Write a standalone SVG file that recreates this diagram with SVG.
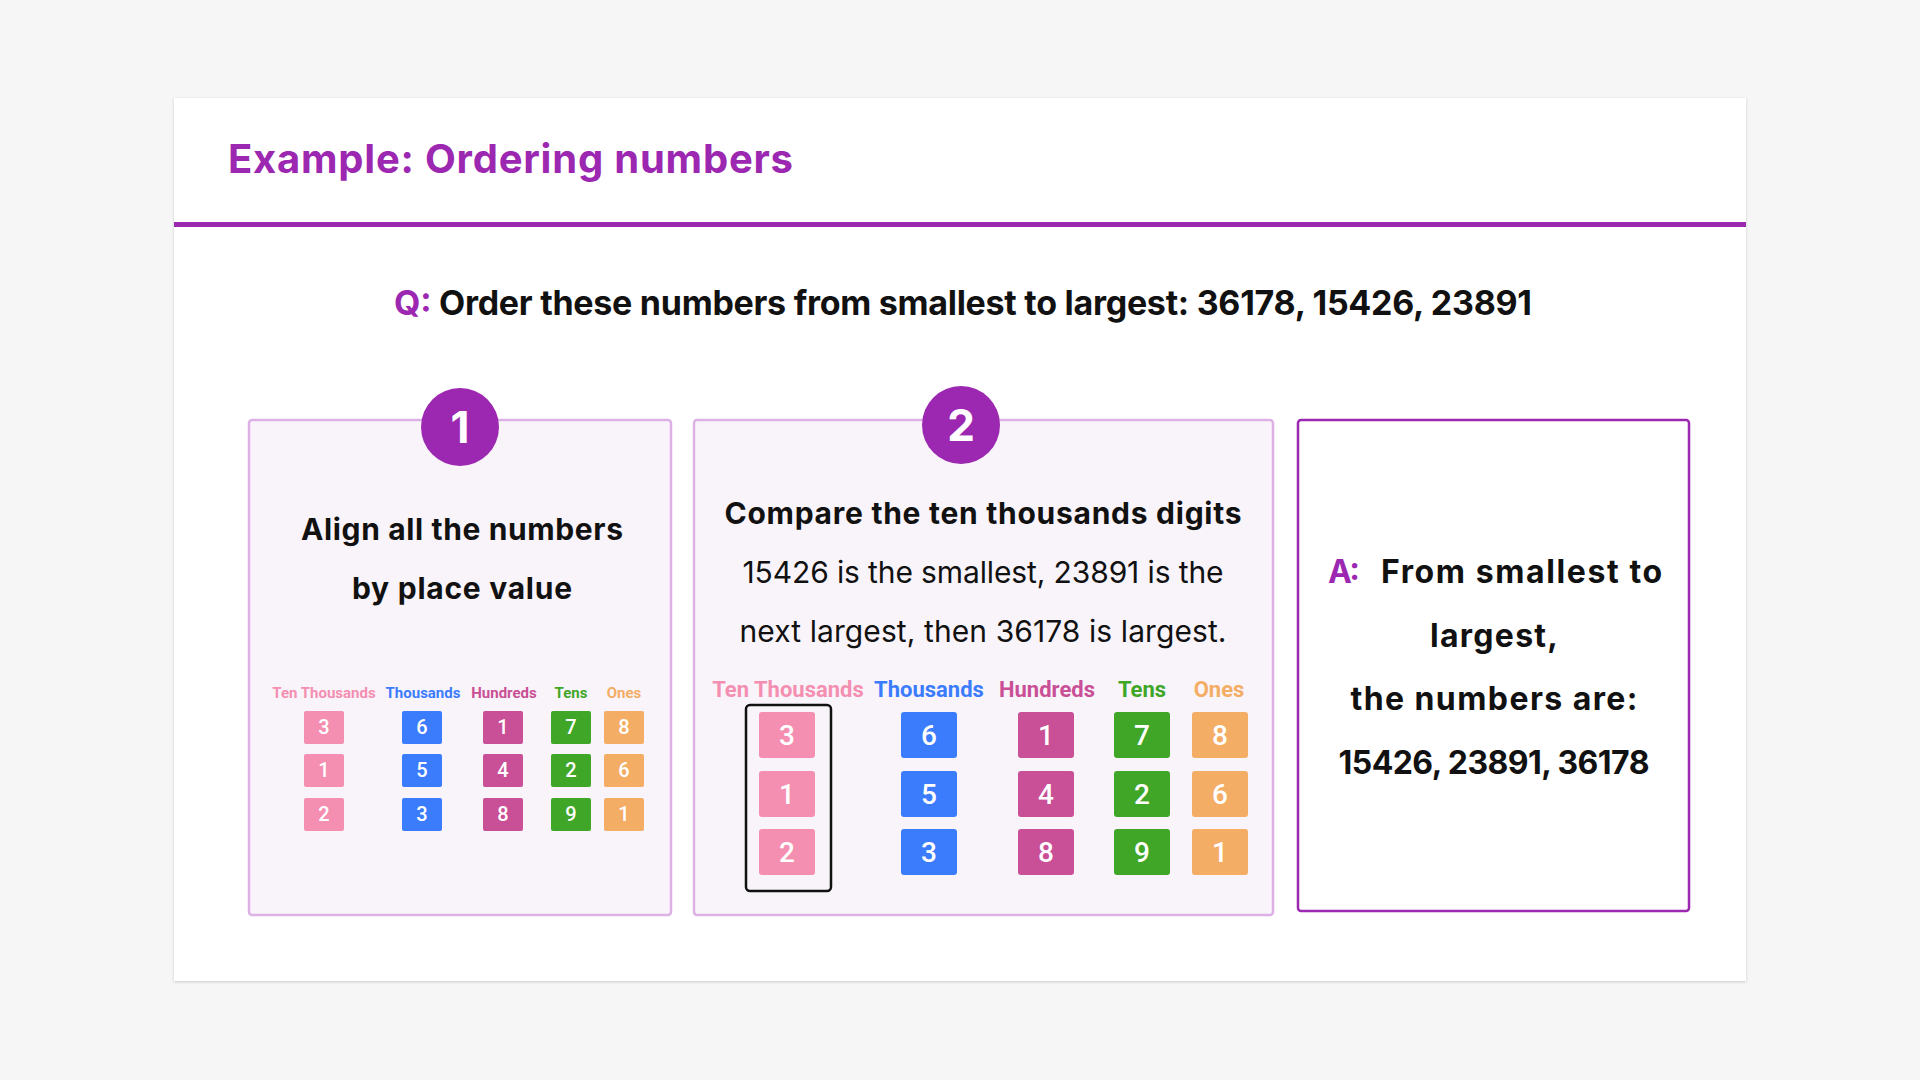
<svg xmlns="http://www.w3.org/2000/svg" width="1920" height="1080" viewBox="0 0 1920 1080">
<defs>
<filter id="sh" x="-5%" y="-5%" width="110%" height="110%">
<feDropShadow dx="0" dy="1" stdDeviation="1.5" flood-color="#000" flood-opacity="0.18"/>
</filter>
<style>
.h{font-family:Inter,"Noto Sans",sans-serif;font-weight:700;fill:#111}
.r{font-family:Inter,"Noto Sans",sans-serif;font-weight:400;fill:#111}
.pu{fill:#9c27b0}
.panel{fill:#f9f4fa;stroke:#ddb0e6;stroke-width:2.5}
.num{font-family:Inter,"Noto Sans",sans-serif;font-weight:700;fill:#fff;text-anchor:middle}
.lab{font-family:Roboto,"Noto Sans",sans-serif;font-weight:700;text-anchor:middle}
.dg{font-family:Roboto,"Noto Sans",sans-serif;font-weight:500;fill:#fff;text-anchor:middle}
.c1{fill:#f48fb1}.c2{fill:#3b7cfd}.c3{fill:#c94f96}.c4{fill:#40a628}.c5{fill:#f4ad65}
</style>
</defs>
<rect width="1920" height="1080" fill="#f6f6f6"/>
<g id="card">
<rect x="174" y="98" width="1572" height="883" fill="#fff" filter="url(#sh)"/>
<rect x="174" y="222" width="1572" height="5" fill="#9c27b0"/>
<text class="h pu" x="228" y="173" font-size="40" textLength="565">Example: Ordering numbers</text>
</g>
<g id="question">
<text class="h" x="394" y="315" font-size="34" textLength="1138"><tspan class="pu">Q:</tspan> Order these numbers from smallest to largest: 36178, 15426, 23891</text>
</g>
<g id="step1">
<rect class="panel" x="249" y="420" width="422" height="495" rx="3"/>
<circle cx="460" cy="427" r="39" fill="#9c27b0"/>
<text class="num" x="460" y="443" font-size="44">1</text>
<text class="h" x="462" y="540" font-size="30" text-anchor="middle" textLength="322">Align all the numbers</text>
<text class="h" x="462" y="599" font-size="30" text-anchor="middle" textLength="220">by place value</text>
<g font-size="15">
<text class="lab c1" x="324" y="698">Ten Thousands</text>
<text class="lab c2" x="423" y="698">Thousands</text>
<text class="lab c3" x="504" y="698">Hundreds</text>
<text class="lab c4" x="571" y="698">Tens</text>
<text class="lab c5" x="624" y="698">Ones</text>
</g>
<g>
<rect class="c1" x="304" y="711" width="40" height="33" rx="2"/>
<rect class="c1" x="304" y="754" width="40" height="33" rx="2"/>
<rect class="c1" x="304" y="798" width="40" height="33" rx="2"/>
<rect class="c2" x="402" y="711" width="40" height="33" rx="2"/>
<rect class="c2" x="402" y="754" width="40" height="33" rx="2"/>
<rect class="c2" x="402" y="798" width="40" height="33" rx="2"/>
<rect class="c3" x="483" y="711" width="40" height="33" rx="2"/>
<rect class="c3" x="483" y="754" width="40" height="33" rx="2"/>
<rect class="c3" x="483" y="798" width="40" height="33" rx="2"/>
<rect class="c4" x="551" y="711" width="40" height="33" rx="2"/>
<rect class="c4" x="551" y="754" width="40" height="33" rx="2"/>
<rect class="c4" x="551" y="798" width="40" height="33" rx="2"/>
<rect class="c5" x="604" y="711" width="40" height="33" rx="2"/>
<rect class="c5" x="604" y="754" width="40" height="33" rx="2"/>
<rect class="c5" x="604" y="798" width="40" height="33" rx="2"/>
</g>
<g font-size="20">
<text class="dg" x="324" y="734">3</text><text class="dg" x="324" y="777">1</text><text class="dg" x="324" y="821">2</text>
<text class="dg" x="422" y="734">6</text><text class="dg" x="422" y="777">5</text><text class="dg" x="422" y="821">3</text>
<text class="dg" x="503" y="734">1</text><text class="dg" x="503" y="777">4</text><text class="dg" x="503" y="821">8</text>
<text class="dg" x="571" y="734">7</text><text class="dg" x="571" y="777">2</text><text class="dg" x="571" y="821">9</text>
<text class="dg" x="624" y="734">8</text><text class="dg" x="624" y="777">6</text><text class="dg" x="624" y="821">1</text>
</g>
</g>
<g id="step2">
<rect class="panel" x="694" y="420" width="579" height="495" rx="3"/>
<circle cx="961" cy="425" r="39" fill="#9c27b0"/>
<text class="num" x="961" y="441" font-size="44">2</text>
<text class="h" x="983" y="524" font-size="30" text-anchor="middle" textLength="517">Compare the ten thousands digits</text>
<text class="r" x="983" y="583" font-size="30" text-anchor="middle" textLength="481">15426 is the smallest, 23891 is the</text>
<text class="r" x="983" y="642" font-size="30" text-anchor="middle" textLength="487">next largest, then 36178 is largest.</text>
<g font-size="22">
<text class="lab c1" x="788" y="697">Ten Thousands</text>
<text class="lab c2" x="929" y="697">Thousands</text>
<text class="lab c3" x="1047" y="697">Hundreds</text>
<text class="lab c4" x="1142" y="697">Tens</text>
<text class="lab c5" x="1219" y="697">Ones</text>
</g>
<g>
<rect class="c1" x="759" y="712" width="56" height="46" rx="3"/>
<rect class="c1" x="759" y="771" width="56" height="46" rx="3"/>
<rect class="c1" x="759" y="829" width="56" height="46" rx="3"/>
<rect class="c2" x="901" y="712" width="56" height="46" rx="3"/>
<rect class="c2" x="901" y="771" width="56" height="46" rx="3"/>
<rect class="c2" x="901" y="829" width="56" height="46" rx="3"/>
<rect class="c3" x="1018" y="712" width="56" height="46" rx="3"/>
<rect class="c3" x="1018" y="771" width="56" height="46" rx="3"/>
<rect class="c3" x="1018" y="829" width="56" height="46" rx="3"/>
<rect class="c4" x="1114" y="712" width="56" height="46" rx="3"/>
<rect class="c4" x="1114" y="771" width="56" height="46" rx="3"/>
<rect class="c4" x="1114" y="829" width="56" height="46" rx="3"/>
<rect class="c5" x="1192" y="712" width="56" height="46" rx="3"/>
<rect class="c5" x="1192" y="771" width="56" height="46" rx="3"/>
<rect class="c5" x="1192" y="829" width="56" height="46" rx="3"/>
</g>
<g font-size="28">
<text class="dg" x="787" y="745">3</text><text class="dg" x="787" y="804">1</text><text class="dg" x="787" y="862">2</text>
<text class="dg" x="929" y="745">6</text><text class="dg" x="929" y="804">5</text><text class="dg" x="929" y="862">3</text>
<text class="dg" x="1046" y="745">1</text><text class="dg" x="1046" y="804">4</text><text class="dg" x="1046" y="862">8</text>
<text class="dg" x="1142" y="745">7</text><text class="dg" x="1142" y="804">2</text><text class="dg" x="1142" y="862">9</text>
<text class="dg" x="1220" y="745">8</text><text class="dg" x="1220" y="804">6</text><text class="dg" x="1220" y="862">1</text>
</g>
<rect x="746" y="705" width="85" height="186" rx="4" fill="none" stroke="#111" stroke-width="2.5"/>
</g>
<g id="answer">
<rect x="1298" y="420" width="391" height="491" rx="3" fill="#fff" stroke="#9c27b0" stroke-width="2.5"/>
<text class="h pu" x="1328" y="583" font-size="32" textLength="32">A:</text>
<text class="h" x="1381" y="583" font-size="32" textLength="281">From smallest to</text>
<text class="h" x="1494" y="647" font-size="32" text-anchor="middle" textLength="128">largest,</text>
<text class="h" x="1494" y="710" font-size="32" text-anchor="middle" textLength="287">the numbers are:</text>
<text class="h" x="1494" y="774" font-size="32" text-anchor="middle" textLength="311">15426, 23891, 36178</text>
</g>
</svg>
